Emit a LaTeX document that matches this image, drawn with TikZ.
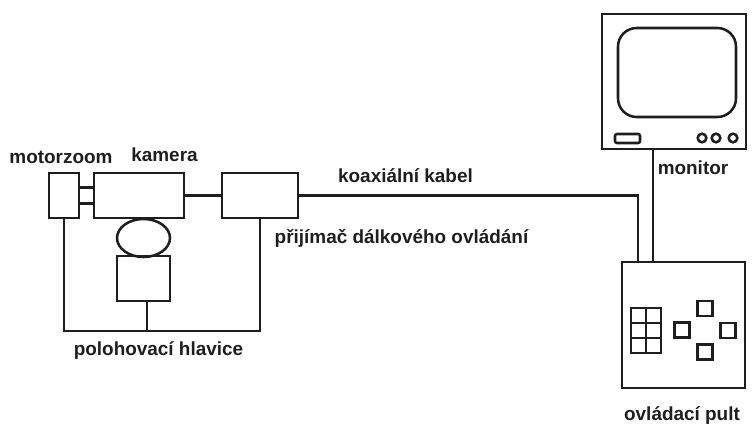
\documentclass[tikz,border=0pt]{standalone}
\usepackage{fontspec}
\setmainfont{Liberation Sans}
\usepackage{xcolor}
\usetikzlibrary{positioning,shapes.geometric}
\definecolor{inkdark}{HTML}{1E1E1E}

\begin{document}
\begin{tikzpicture}[
  x=0.75pt, y=-0.75pt,
  every node/.style={text=inkdark},
  lbl/.style={font=\fontsize{14.2}{16}\selectfont\bfseries, inner sep=0pt},
  blockbox/.style={draw=inkdark, line width=1.9pt, inner sep=0pt},
  keybox/.style={blockbox, minimum width=11.25pt, minimum height=11.25pt},
  wire/.style={draw=inkdark, line width=1.9pt},
]
\useasboundingbox (0,0) rectangle (755,428);

% Camera group
\node[blockbox, minimum width=22.5pt, minimum height=33.75pt] (motor) at (64,195.5) {};
\node[blockbox, minimum width=67.5pt, minimum height=33.75pt] (cam) at (139,195.5) {};
\node[blockbox, minimum width=57pt, minimum height=33.75pt] (recv) at (260,195.5) {};
\node[blockbox, ellipse, minimum width=39.75pt, minimum height=28.5pt] (tilt) at (143.5,238) {};
\node[blockbox, minimum width=39.75pt, minimum height=33.75pt] (head) at (143.5,278.5) {};

% Monitor
\node[blockbox, minimum width=108pt, minimum height=101.25pt] (mon) at (674,81.5) {};
\node[blockbox, rounded corners=14pt, minimum width=88.5pt, minimum height=66.75pt] (screen) at (677,72.5) {};
\node[blockbox, rounded corners=1.5pt, minimum width=18.75pt, minimum height=6.75pt] (slot) at (627.5,138.5) {};
\foreach \n/\x in {a/702,b/716,c/733}
  \node[blockbox, circle, minimum size=6.5pt] (knob\n) at (\x,138) {};

% Control desk
\node[blockbox, minimum width=92.25pt, minimum height=94.5pt] (desk) at (683.5,325) {};
\foreach \r/\y in {1/315.5,2/330.5,3/345.5}
  \foreach \c/\x in {1/638.5,2/653.5}
    \node[keybox] (key\r\c) at (\x,\y) {};
\node[keybox] (btnw) at (682,330) {};
\node[keybox] (btnn) at (705,308.5) {};
\node[keybox] (btne) at (728,330.5) {};
\node[keybox] (btns) at (705,352) {};

% Free ends
\coordinate (bus) at (147,331);
\coordinate (cabletop) at (638,262);
\coordinate (montop) at (653,262);

% Links
\draw[wire] ([yshift=6pt]motor.east) -- ([yshift=6pt]cam.west);
\draw[wire] ([yshift=-6pt]motor.east) -- ([yshift=-6pt]cam.west);
\draw[wire] (cam) -- (recv);
\draw[wire] (motor.south) |- (bus) -| (recv.south);
\draw[wire] (bus |- head.south) -- (bus);
\draw[wire] (recv.east) -| (cabletop);
\draw[wire] (mon.south -| montop) -- (montop);

% Labels
\node[lbl] (lmotor) at (61,157) {motorzoom};
\node[lbl] (lcam) at (164.5,155) {kamera};
\node[lbl] (lcable) at (405.5,176) {koaxiální kabel};
\node[lbl] (lrecv) at (401.5,238) {přijímač dálkového ovládání};
\node[lbl] (lhead) at (158.5,351) {polohovací hlavice};
\node[lbl] (lmon) at (693,168) {monitor};
\node[lbl] (ldesk) at (682,416) {ovládací pult};
\end{tikzpicture}
\end{document}
